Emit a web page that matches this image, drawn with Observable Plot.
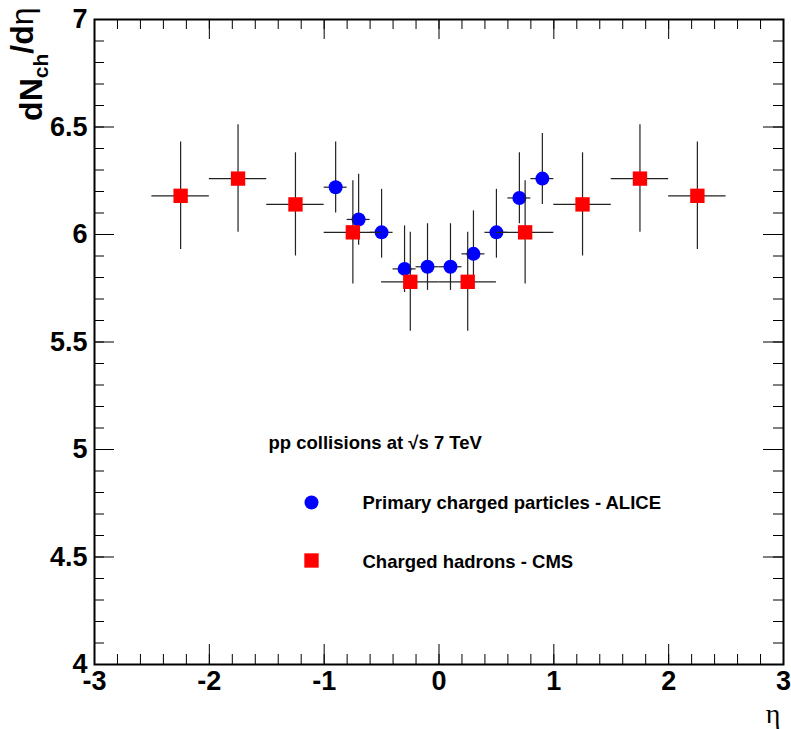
<!DOCTYPE html>
<html><head><meta charset="utf-8">
<script src="https://cdn.jsdelivr.net/npm/d3@7"></script>
<script src="https://cdn.jsdelivr.net/npm/@observablehq/plot@0.6"></script>
<style>body{margin:0;background:#fff}</style>
</head><body><div id="chart"></div>
<script>
// ALICE: primary charged particles
const etaALICE = [-0.9, -0.7, -0.5, -0.3, -0.1, 0.1, 0.3, 0.5, 0.7, 0.9];
const dndetaALICE = [6.22, 6.07, 6.01, 5.84, 5.85, 5.85, 5.91, 6.01, 6.17, 6.26];
const errUpALICE = [0.21, 0.21, 0.20, 0.20, 0.20, 0.20, 0.20, 0.20, 0.21, 0.21];
const errDownALICE = [0.12, 0.12, 0.12, 0.11, 0.11, 0.11, 0.11, 0.12, 0.12, 0.12];
const binHalfALICE = 0.1;
// CMS: charged hadrons
const etaCMS = [-2.25, -1.75, -1.25, -0.75, -0.25, 0.25, 0.75, 1.25, 1.75, 2.25];
const dndetaCMS = [6.18, 6.26, 6.14, 6.01, 5.78, 5.78, 6.01, 6.14, 6.26, 6.18];
const errCMS = [0.25, 0.25, 0.24, 0.24, 0.23, 0.23, 0.24, 0.24, 0.25, 0.25];
const binHalfCMS = 0.25;
// ticks
const yTickValues = [4, 4.5, 5, 5.5, 6, 6.5, 7];
const yTickLabels = ["4", "4.5", "5", "5.5", "6", "6.5", "7"];
const xTickValues = [-3, -2, -1, 0, 1, 2, 3];
const xTickLabels = ["-3", "-2", "-1", "0", "1", "2", "3"];
const yMinorValues = d3.range(40, 71).map(v => v / 10);
const xMinorValues = d3.range(-15, 16).map(v => v / 5);
// texts
const titleText = "pp collisions at \u221As 7 TeV";
const legendLabels = ["Primary charged particles - ALICE", "Charged hadrons - CMS"];
const yTitle = "dNch/d\u03B7";
const xTitle = "\u03B7";

const W = 791, H = 729, mL = 94, mR = 8, mT = 19, mB = 65;
const iw = W - mL - mR, ih = H - mT - mB;
const font = "'Liberation Sans', Arial, Helvetica, sans-serif";

const alice = etaALICE.map((x, i) => ({x, y: dndetaALICE[i], y1: dndetaALICE[i] - errDownALICE[i], y2: dndetaALICE[i] + errUpALICE[i], x1: x - binHalfALICE, x2: x + binHalfALICE}));
const cms = etaCMS.map((x, i) => ({x, y: dndetaCMS[i], y1: dndetaCMS[i] - errCMS[i], y2: dndetaCMS[i] + errCMS[i], x1: x - binHalfCMS, x2: x + binHalfCMS}));

const bar = {stroke: "#222", strokeWidth: 1.2};
const chart = Plot.plot({
  width: W, height: H, marginLeft: mL, marginRight: mR, marginTop: mT, marginBottom: mB,
  x: {domain: [-3, 3], axis: null},
  y: {domain: [4, 7], axis: null},
  style: {fontFamily: font, background: "white", color: "black"},
  marks: [
    // ticks (inside the frame, all four sides)
    Plot.tickY(yMinorValues, {y: d => d, insetRight: iw - 10, stroke: "black"}),
    Plot.tickY(yTickValues, {y: d => d, insetRight: iw - 20, stroke: "black"}),
    Plot.tickY(yMinorValues, {y: d => d, insetLeft: iw - 10, stroke: "black"}),
    Plot.tickY(yTickValues, {y: d => d, insetLeft: iw - 20, stroke: "black"}),
    Plot.tickX(xMinorValues, {x: d => d, insetTop: ih - 10, stroke: "black"}),
    Plot.tickX(xTickValues, {x: d => d, insetTop: ih - 20, stroke: "black"}),
    Plot.tickX(xMinorValues, {x: d => d, insetBottom: ih - 10, stroke: "black"}),
    Plot.tickX(xTickValues, {x: d => d, insetBottom: ih - 20, stroke: "black"}),
    // tick labels
    Plot.text(yTickValues, {y: d => d, text: (d, i) => yTickLabels[i], frameAnchor: "left", textAnchor: "end", dx: -7, fontSize: 27, fontWeight: "bold"}),
    Plot.text(xTickValues, {x: d => d, text: (d, i) => xTickLabels[i], frameAnchor: "bottom", lineAnchor: "top", dy: 6, fontSize: 27, fontWeight: "bold"}),
    // ALICE
    Plot.ruleX(alice, {x: "x", y1: "y1", y2: "y2", ...bar}),
    Plot.ruleY(alice, {y: "y", x1: "x1", x2: "x2", ...bar}),
    Plot.dot(alice, {x: "x", y: "y", r: 7, fill: "#0000ff", stroke: "none"}),
    // CMS
    Plot.ruleX(cms, {x: "x", y1: "y1", y2: "y2", ...bar}),
    Plot.ruleY(cms, {y: "y", x1: "x1", x2: "x2", ...bar}),
    Plot.dot(cms, {x: "x", y: "y", r: 8.1, symbol: "square", fill: "#ff0000", stroke: "none"}),
    // legend
    Plot.text([titleText], {frameAnchor: "top-left", dx: 268 - mL, dy: 448 - mT, textAnchor: "start", lineAnchor: "bottom", fontSize: 18.5, fontWeight: "bold"}),
    Plot.dot([0], {frameAnchor: "top-left", dx: 311 - mL, dy: 502 - mT, r: 7, fill: "#0000ff", stroke: "none"}),
    Plot.dot([0], {frameAnchor: "top-left", dx: 311 - mL, dy: 560 - mT, r: 8.1, symbol: "square", fill: "#ff0000", stroke: "none"}),
    Plot.text([legendLabels[0]], {frameAnchor: "top-left", dx: 362 - mL, dy: 508 - mT, textAnchor: "start", lineAnchor: "bottom", fontSize: 18.5, fontWeight: "bold"}),
    Plot.text([legendLabels[1]], {frameAnchor: "top-left", dx: 362 - mL, dy: 567 - mT, textAnchor: "start", lineAnchor: "bottom", fontSize: 18.5, fontWeight: "bold"}),
    // axis titles
    Plot.text([yTitle], {frameAnchor: "top-left", rotate: -90, dx: 41 - mL, dy: 7 - mT, textAnchor: "end", lineAnchor: "bottom", fontSize: 32, fontWeight: "bold"}),
    Plot.text([xTitle], {frameAnchor: "bottom-right", dx: -3, dy: 722 - (H - mB), textAnchor: "end", lineAnchor: "bottom", fontSize: 28, fontFamily: "'Liberation Serif', 'DejaVu Serif', serif"}),
    Plot.frame({stroke: "black", strokeWidth: 2})
  ]
});
document.getElementById("chart").appendChild(chart);

// typeset subscript in y title
d3.select(chart).selectAll("text").filter(function () { return this.textContent === yTitle; }).each(function () {
  const t = d3.select(this);
  t.text(null);
  t.append("tspan").text("dN");
  t.append("tspan").attr("font-size", 21).attr("dy", "0.3em").text("ch");
  t.append("tspan").attr("dy", "-0.45em").text("/d");
  t.append("tspan").attr("font-weight", "normal").text("\u03B7");
});
</script>
</body></html>
